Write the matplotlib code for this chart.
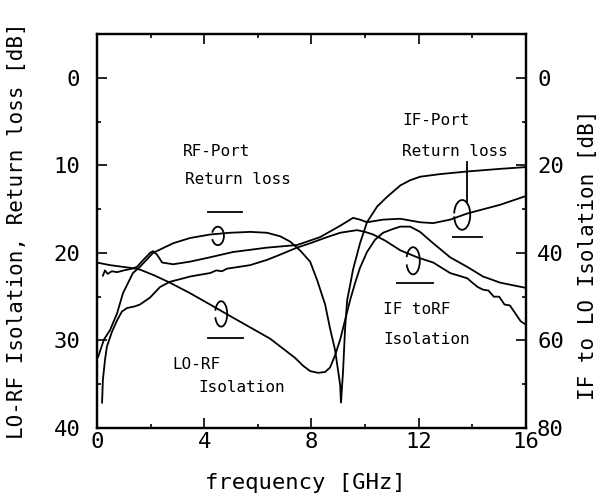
import numpy as np
import matplotlib.pyplot as plt
from matplotlib.patches import Arc

# ---------------------------------------------------------------------------
# data (frequency in GHz, loss in dB, left scale)
# ---------------------------------------------------------------------------

# RF-port return loss, runs through the notch at 9 GHz into the upper right branch
rl_f = [0.04, 0.26, 0.49, 0.75, 0.97, 1.34, 1.60, 2.09, 2.84, 3.47, 4.22, 4.96,
        5.71, 6.34, 6.83, 7.20, 7.57, 7.95, 8.21, 8.51, 8.69, 8.88, 8.99, 9.07,
        9.10, 9.18, 9.25, 9.33, 9.44, 9.55, 9.81, 10.07, 10.45, 10.82, 11.31,
        11.68, 12.05, 12.80, 13.81, 15.04, 16.0]
rl_db = [31.9, 29.9, 28.8, 26.9, 24.6, 22.3, 21.6, 20.0, 18.9, 18.3, 17.9, 17.7,
         17.6, 17.7, 18.1, 18.7, 19.7, 21.0, 23.1, 25.9, 28.6, 31.1, 33.4, 35.1,
         37.1, 33.4, 28.8, 25.4, 23.7, 21.9, 18.9, 16.5, 14.7, 13.6, 12.3,
         11.7, 11.3, 11.0, 10.7, 10.4, 10.2]

# IF to RF isolation (the wiggly one)
ifrf_f = [0.19, 0.22, 0.30, 0.37, 0.56, 0.75, 0.93, 1.12, 1.42, 1.60, 1.98, 2.35,
          2.72, 3.10, 3.47, 3.84, 4.22, 4.45, 4.66, 4.85, 5.07, 5.71, 6.34, 6.83,
          7.46, 7.95, 8.58, 9.07, 9.70, 10.0, 10.3, 10.75, 11.31, 11.94, 12.54,
          13.17, 13.81, 14.0, 14.2, 14.4, 14.6, 14.8, 15.0, 15.2, 15.4, 15.6,
          15.8, 16.0]
ifrf_db = [37.1, 34.5, 32.2, 30.7, 29.0, 27.7, 26.7, 26.3, 26.1, 25.9, 25.1, 23.9,
           23.3, 23.0, 22.7, 22.5, 22.3, 22.0, 22.1, 21.8, 21.7, 21.4, 20.8, 20.2,
           19.4, 18.9, 18.2, 17.7, 17.4, 17.6, 17.9, 18.6, 19.7, 20.5, 21.1,
           22.3, 22.9, 23.4, 23.9, 24.2, 24.3, 25.0, 25.0, 25.9, 26.0, 26.9,
           27.8, 28.2]

# LO-RF isolation
lorf_f = [0.0, 0.49, 1.23, 1.60, 2.16, 2.72, 3.47, 4.22, 4.96, 5.71, 6.46, 7.01,
          7.39, 7.69, 7.95, 8.25, 8.51, 8.69, 8.88, 9.07, 9.25, 9.44, 9.63, 9.81,
          10.07, 10.37, 10.67, 11.01, 11.31, 11.68, 12.05, 12.54, 13.17, 13.81,
          14.40, 15.04, 16.0]
lorf_db = [21.1, 21.4, 21.7, 21.9, 22.6, 23.4, 24.6, 25.9, 27.2, 28.5, 29.8, 31.1,
           32.0, 32.9, 33.5, 33.7, 33.6, 33.1, 31.7, 29.9, 27.7, 25.4, 23.4, 21.7,
           19.9, 18.5, 17.7, 17.3, 17.0, 17.0, 17.6, 18.9, 20.5, 21.6,
           22.7, 23.4, 24.0]

# IF-port return loss
ifrl_f = [0.22, 0.30, 0.40, 0.55, 0.75, 1.00, 1.30, 1.49, 1.79, 1.98, 2.09, 2.24,
          2.43, 2.84, 3.47, 4.22, 5.07, 6.34, 7.46, 8.32, 9.07, 9.55, 9.81, 10.07,
          10.67, 11.31, 12.05, 12.54, 13.17, 13.81, 15.04, 16.0]
ifrl_db = [22.6, 22.0, 22.4, 22.1, 22.2, 22.0, 21.8, 21.6, 20.6, 20.0, 19.8, 20.2,
           21.1, 21.3, 21.0, 20.5, 19.9, 19.4, 19.1, 18.2, 16.9, 16.0, 16.2, 16.5,
           16.2, 16.1, 16.5, 16.6, 16.2, 15.5, 14.5, 13.5]

X_MAJ = [0, 4, 8, 12, 16]
X_MIN = [2, 6, 10, 14]
L_MAJ = [0, 10, 20, 30, 40]
L_MIN = [5, 15, 25, 35]
R_MAJ = [0, 20, 40, 60, 80]
R_MIN = [10, 30, 50, 70]

FONT = "DejaVu Sans Mono"
plt.rcParams["font.family"] = FONT

fig = plt.figure(figsize=(6.08, 5.04), dpi=100)
ax = fig.add_axes([0.1595, 0.1508, 0.7056, 0.7817])

lw = 1.3
for f, db in [(rl_f, rl_db), (ifrf_f, ifrf_db), (lorf_f, lorf_db), (ifrl_f, ifrl_db)]:
    ax.plot(f, db, color="black", lw=lw)

ax.set_xlim(0, 16)
ax.set_ylim(40, -5)
ax.set_xticks(X_MAJ)
ax.set_xticks(X_MIN, minor=True)
ax.set_yticks(L_MAJ)
ax.set_yticks(L_MIN, minor=True)
ax.tick_params(axis="x", which="both", direction="in", top=True, bottom=True,
               labelsize=16, pad=3)
ax.tick_params(axis="y", which="both", direction="in", left=True, right=False,
               labelsize=16, pad=12)
ax.tick_params(which="major", length=7, width=1.2)
ax.tick_params(which="minor", length=3, width=1.2)
for s in ax.spines.values():
    s.set_linewidth(1.6)

ax2 = ax.twinx()
ax2.set_ylim(80, -10)
ax2.set_yticks(R_MAJ)
ax2.set_yticks(R_MIN, minor=True)
ax2.tick_params(axis="y", which="both", direction="in", labelsize=16, pad=8)
ax2.tick_params(which="major", length=7, width=1.2)
ax2.tick_params(which="minor", length=3, width=1.2)
for s in ax2.spines.values():
    s.set_linewidth(1.6)

ax.set_xlabel("frequency [GHz]", fontsize=16)
ax.xaxis.set_label_coords(0.485, -0.115)
ax.set_ylabel("LO-RF Isolation, Return loss [dB]", fontsize=15)
ax.yaxis.set_label_coords(-0.163, 0.5)
ax2.set_ylabel("IF to LO Isolation [dB]", fontsize=15)
ax2.yaxis.set_label_coords(1.122, 0.44)

# curve labels
tfs = 11.5
ax.text(3.21, 8.46, "RF-Port", fontsize=tfs, va="center")
ax.text(3.28, 11.66, "Return loss", fontsize=tfs, va="center")
ax.text(11.38, 4.91, "IF-Port", fontsize=tfs, va="center")
ax.text(11.38, 8.46, "Return loss", fontsize=tfs, va="center")
ax.text(2.80, 32.8, "LO-RF", fontsize=tfs, va="center")
ax.text(3.77, 35.43, "Isolation", fontsize=tfs, va="center")
ax.text(10.67, 26.5, "IF toRF", fontsize=tfs, va="center")
ax.text(10.67, 29.94, "Isolation", fontsize=tfs, va="center")

# little brackets round the curves, with the scale marker lines
brackets = [(4.51, 18.06, 0.45, 2.1, 120),
            (4.63, 26.97, 0.45, 2.9, 120),
            (13.62, 15.66, 0.6, 3.4, 150),
            (11.79, 20.9, 0.5, 3.1, 120)]
for cx, cy, w, h, a in brackets:
    ax.add_patch(Arc((cx, cy), w, h, theta1=-a, theta2=a, color="black", lw=1.3))

marks = [((4.14, 5.41), (15.31, 15.31)),
         ((4.14, 5.45), (29.7, 29.7)),
         ((13.28, 14.37), (18.17, 18.17)),
         ((11.19, 12.54), (23.43, 23.43)),
         ((13.81, 13.81), (9.6, 14.3))]
for xs, ys in marks:
    ax.plot(xs, ys, color="black", lw=1.3)

fig.savefig("out.png", dpi=100)
